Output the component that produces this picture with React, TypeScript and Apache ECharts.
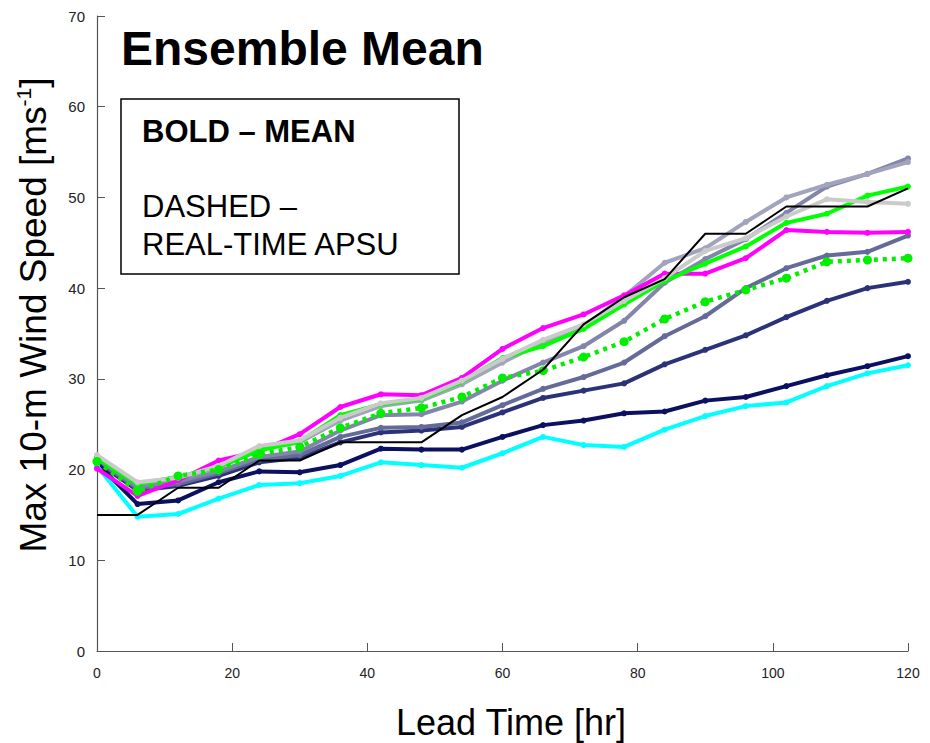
import React, { useEffect, useRef } from "react";
import * as echarts from "echarts";

const hours = [0, 6, 12, 18, 24, 30, 36, 42, 48, 54, 60, 66, 72, 78, 84, 90, 96, 102, 108, 114, 120];

const xTicks = [0, 20, 40, 60, 80, 100, 120];
const yTicks = [0, 10, 20, 30, 40, 50, 60, 70];

const slate4 = [20.8, 17.7, 18.2, 19.3, 20.8, 21.3, 23.0, 24.1, 24.3, 24.7, 26.3, 27.9, 28.7, 29.5, 31.6, 33.2, 34.8, 36.8, 38.6, 40.0, 40.7];
const slate3 = [21.0, 17.9, 18.4, 19.6, 21.1, 21.6, 23.6, 24.6, 24.7, 25.2, 27.1, 28.9, 30.2, 31.8, 34.7, 36.9, 40.0, 42.2, 43.6, 44.0, 45.8];
const slate2 = [21.2, 18.1, 18.7, 19.8, 21.4, 22.0, 24.3, 26.0, 26.1, 27.5, 29.8, 31.8, 33.6, 36.4, 40.6, 43.2, 45.4, 48.3, 51.2, 52.6, 54.3];
const slate1 = [21.5, 18.5, 19.0, 20.2, 22.2, 23.0, 25.4, 27.0, 27.6, 29.4, 31.8, 34.0, 35.8, 39.1, 42.8, 44.4, 47.3, 50.0, 51.4, 52.6, 53.9];
const navy = [20.7, 16.2, 16.6, 18.6, 19.8, 19.7, 20.5, 22.3, 22.2, 22.2, 23.6, 24.9, 25.4, 26.2, 26.4, 27.6, 28.0, 29.2, 30.4, 31.4, 32.5];
const cyan = [20.4, 14.8, 15.1, 16.8, 18.3, 18.5, 19.3, 20.8, 20.5, 20.2, 21.8, 23.6, 22.7, 22.5, 24.4, 25.9, 27.0, 27.4, 29.2, 30.6, 31.5];
const magenta = [20.1, 17.1, 18.8, 21.0, 22.0, 23.9, 26.9, 28.3, 28.2, 30.1, 33.3, 35.6, 37.1, 39.2, 41.6, 41.6, 43.3, 46.4, 46.2, 46.1, 46.2];
const green = [21.3, 18.4, 19.2, 20.3, 22.1, 23.1, 26.0, 27.2, 27.8, 29.7, 32.3, 33.6, 35.5, 38.2, 40.8, 42.7, 44.6, 47.2, 48.2, 50.2, 51.2];
const silver = [21.6, 18.6, 19.1, 20.4, 22.6, 23.2, 25.7, 27.3, 27.9, 29.8, 32.2, 34.3, 36.0, 38.6, 41.1, 44.1, 45.5, 47.9, 49.8, 49.5, 49.3];
const realtimeApsu = [20.9, 17.6, 19.3, 20.0, 21.7, 22.5, 24.6, 26.2, 26.8, 28.0, 30.1, 30.9, 32.4, 34.1, 36.6, 38.5, 39.8, 41.1, 42.9, 43.1, 43.3];
const bestTrack = [15, 15, 18, 18, 21, 21, 23, 23, 23, 26, 28, 31, 36, 39, 41, 46, 46, 49, 49, 49, 51];

const FONT = "Liberation Sans, Arial, Helvetica, sans-serif";

function pairs(vals: number[]) {
  return hours.map((h, i) => [h, vals[i]]);
}

function solid(name: string, vals: number[], color: string, z: number) {
  return {
    name,
    type: "line",
    data: pairs(vals),
    z,
    symbol: "circle",
    symbolSize: 6,
    showSymbol: true,
    itemStyle: { color },
    lineStyle: { color, width: 4 },
  };
}

export default function App() {
  const ref = useRef<HTMLDivElement>(null);
  useEffect(() => {
    if (!ref.current) return;
    const chart = echarts.init(ref.current, undefined, { renderer: "svg" });
    const option = {
      animation: false,
      backgroundColor: "#ffffff",
      grid: { left: 97, right: 22, top: 16, bottom: 92, containLabel: false },
      xAxis: {
        type: "value",
        min: xTicks[0],
        max: xTicks[xTicks.length - 1],
        interval: 20,
        axisLine: { show: true, lineStyle: { color: "#555", width: 1.2 } },
        axisTick: { show: true, inside: true, length: 8, lineStyle: { color: "#555", width: 1 } },
        axisLabel: { color: "#222", fontSize: 14, fontFamily: FONT, margin: 15 },
        splitLine: { show: false },
      },
      yAxis: {
        type: "value",
        min: yTicks[0],
        max: yTicks[yTicks.length - 1],
        interval: 10,
        axisLine: { show: true, lineStyle: { color: "#555", width: 1.2 } },
        axisTick: { show: true, inside: true, length: 8, lineStyle: { color: "#555", width: 1 } },
        axisLabel: { color: "#222", fontSize: 15, fontFamily: FONT, margin: 12 },
        splitLine: { show: false },
      },
      graphic: [
        {
          type: "text",
          left: 121,
          top: 24,
          style: {
            text: "Ensemble Mean",
            font: `bold 48px ${FONT}`,
            fill: "#000",
          },
        },
        {
          type: "rect",
          shape: { x: 121, y: 99, width: 338, height: 175 },
          style: { fill: "#fff", stroke: "#000", lineWidth: 1.5 },
          z: 100,
        },
        {
          type: "text",
          x: 142,
          y: 131,
          z: 101,
          style: {
            text: "BOLD \u2013 MEAN",
            font: `bold 31px ${FONT}`,
            fill: "#000",
            verticalAlign: "middle",
          },
        },
        {
          type: "text",
          x: 142,
          y: 206,
          z: 101,
          style: {
            text: "DASHED \u2013",
            font: `31px ${FONT}`,
            fill: "#000",
            verticalAlign: "middle",
          },
        },
        {
          type: "text",
          x: 142,
          y: 244,
          z: 101,
          style: {
            text: "REAL-TIME APSU",
            font: `31px ${FONT}`,
            fill: "#000",
            verticalAlign: "middle",
          },
        },
        {
          type: "text",
          x: 33,
          y: 315,
          rotation: Math.PI / 2,
          style: {
            text: "{a|Max 10-m Wind Speed [ms}{s|-1}{a|]}",
            align: "center",
            verticalAlign: "middle",
            fill: "#000",
            rich: {
              a: { fontSize: 37, fontFamily: FONT, fill: "#000", lineHeight: 40 },
              s: { fontSize: 21, fontFamily: FONT, fill: "#000", verticalAlign: "top", lineHeight: 22 },
            },
          },
        },
        {
          type: "text",
          x: 511,
          y: 722,
          style: {
            text: "Lead Time [hr]",
            font: `36px ${FONT}`,
            fill: "#000",
            align: "center",
            verticalAlign: "middle",
          },
        },
      ],
      series: [
        solid("Member 4", slate4, "#2b3278", 2),
        solid("Member 3", slate3, "#646b99", 3),
        solid("Member 2", slate2, "#8386aa", 4),
        solid("Member 1", slate1, "#a2a3bd", 5),
        solid("Navy", navy, "#0b1060", 6),
        solid("Cyan", cyan, "#00ffff", 7),
        solid("Magenta", magenta, "#ff00ff", 8),
        solid("Green", green, "#00ff00", 9),
        solid("Silver", silver, "#cacaca", 10),
        {
          name: "Real-time APSU",
          type: "line",
          data: pairs(realtimeApsu),
          z: 11,
          symbol: "circle",
          symbolSize: 9,
          itemStyle: { color: "#00ee00" },
          lineStyle: { color: "#00ee00", width: 4.5, type: [4, 5], cap: "butt" },
        },
        {
          name: "Best Track",
          type: "line",
          data: pairs(bestTrack),
          z: 12,
          symbol: "none",
          showSymbol: false,
          lineStyle: { color: "#000", width: 2 },
        },
      ],
    };
    chart.setOption(option as any);
    return () => chart.dispose();
  }, []);
  return (
    <div
      ref={ref}
      style={{ position: "fixed", left: 0, top: 0, width: 930, height: 743, background: "#fff" }}
    />
  );
}
